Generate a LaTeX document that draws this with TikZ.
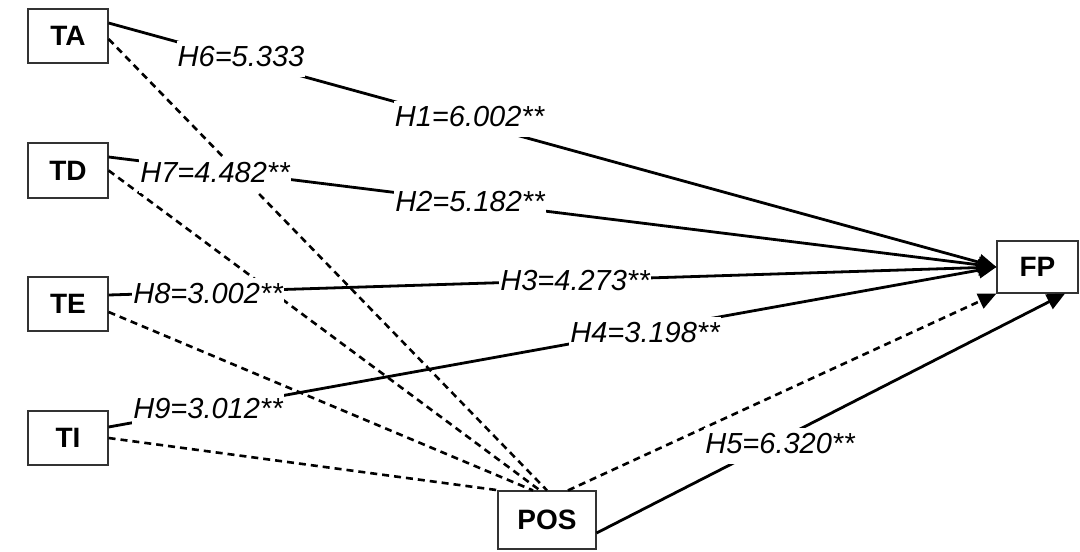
\documentclass[tikz,border=0pt]{standalone}
\usepackage{fontspec}
\setmainfont{Liberation Sans}
\usetikzlibrary{arrows.meta}
\begin{document}
\begin{tikzpicture}[x=1pt,y=-1pt,
  box/.style={draw=black!80,line width=1.2pt,minimum width=80pt,minimum height=54pt,inner sep=0pt,font=\fontsize{28}{32}\selectfont\bfseries},
  tip/.style={-{Triangle[length=18pt,width=16pt]}},
  solidline/.style={line width=2.8pt},
  dashedline/.style={line width=2.6pt,dash pattern=on 7pt off 5pt},
  lbl/.style={fill=white,inner xsep=1pt,inner ysep=0pt,text height=25pt,text depth=11pt,anchor=base,font=\fontsize{29}{32}\selectfont\itshape}]
\useasboundingbox (0,0) rectangle (1080,552);
% boxes
\node[box] (TA) at (68,36) {TA};
\node[box,minimum height=55pt] (TD) at (68,170.5) {TD};
\node[box] (TE) at (68,304) {TE};
\node[box] (TI) at (68,438) {TI};
\node[box,minimum width=98pt,minimum height=58pt] (POS) at (547,520) {POS};
\node[box,minimum width=81pt,minimum height=52pt] (FP) at (1037.5,267) {FP};
% dashed lines to POS
\draw[dashedline] ([yshift=-3pt]TA.east) -- (POS.north);
\draw[dashedline] (TD.east) -- ([xshift=-7pt]POS.north);
\draw[dashedline] ([yshift=-8pt]TE.east) -- ([xshift=-14pt]POS.north);
\draw[dashedline] (TI.east) -- ([xshift=2pt]POS.north west);
% solid lines to FP
\draw[solidline,tip] ([yshift=13pt]TA.east) -- (FP.west);
\draw[solidline,tip] ([yshift=13.5pt]TD.east) -- (FP.west);
\draw[solidline,tip] ([yshift=9pt]TE.east) -- (FP.west);
\draw[solidline,tip] ([yshift=11pt]TI.east) -- (FP.west);
% POS to FP
\draw[dashedline,tip] ([xshift=21pt]POS.north) -- (FP.south west);
\draw[solidline,tip] ([yshift=-13pt]POS.east) -- ([xshift=27.5pt]FP.south);
% labels
\node[lbl] (h6) at (241,66) {H6=5.333};
\node[lbl] (h1) at (469.5,126) {H1=6.002**};
\node[lbl] (h7) at (215,182) {H7=4.482**};
\node[lbl] (h2) at (470,211) {H2=5.182**};
\node[lbl] (h8) at (208,303) {H8=3.002**};
\node[lbl] (h3) at (575,290) {H3=4.273**};
\node[lbl] (h4) at (645,342) {H4=3.198**};
\node[lbl] (h9) at (208,418) {H9=3.012**};
\node[lbl] (h5) at (780,453) {H5=6.320**};
\end{tikzpicture}
\end{document}
